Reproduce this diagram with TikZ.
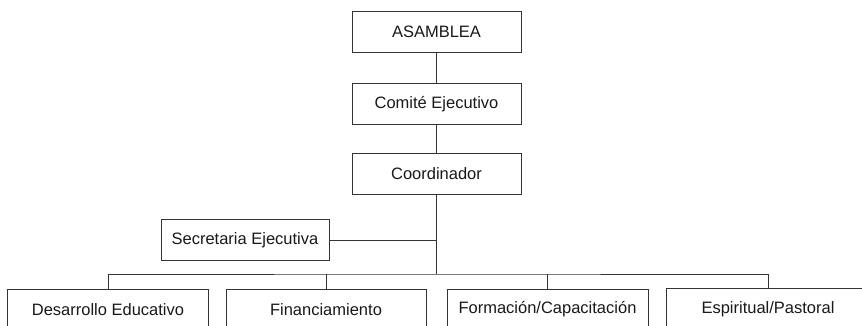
\documentclass[tikz,border=0pt]{standalone}
\usepackage{fontspec}
\setmainfont{Liberation Sans}
\usepackage{tikz}
\usetikzlibrary{positioning}

\begin{document}
\begin{tikzpicture}[x=1pt,y=-1pt,line width=0.9pt,draw=black!80,
	node distance=30pt,font=\fontsize{16.5}{19}\selectfont]
	\tikzstyle{unit}=[draw=black!80,text=black!90,minimum width=169pt,minimum height=41pt,inner sep=0pt]
	\tikzstyle{area}=[unit,minimum width=201pt]
	
	\useasboundingbox (0,0) rectangle (862,325);
	\clip (0,0) rectangle (862,325);
	
	\node[unit] (asam) at (436.5,32) {ASAMBLEA};
	\node[unit] (comite) [below=of asam] {Comité Ejecutivo};
	\node[unit] (coord) [below=28pt of comite] {Coordinador};
	\node[unit,minimum width=168pt] (secre) at (245,240) {Secretaria Ejecutiva};
	
	\node[area] (desa) at (108,309.5) {Desarrollo Educativo};
	\node[area,minimum width=200pt] (finan) at (326,309.5) {Financiamiento};
	\node[area] (forma) at (547.5,309.5) {Formación/Capacitación};
	\node[area,draw=none,minimum width=202pt] (espir) at (768,309.5) {Espiritual/Pastoral};
	
	\coordinate (hub) at (coord.south |- 0,274);
	
	\draw (asam) -- (comite);
	\draw (comite) -- (coord);
	\draw (coord) -- (hub);
	\draw (secre) -- (secre -| coord);
	
	\draw (desa.north) |- (hub) -| (espir.north);
	\draw (finan.north) -- (finan.north |- hub);
	\draw (forma.north) -- (forma.north |- hub);
	
	% last box runs off the page
	\draw (espir.south west) -- (espir.north west) -- ++(220,0);
	
\end{tikzpicture}
\end{document}
